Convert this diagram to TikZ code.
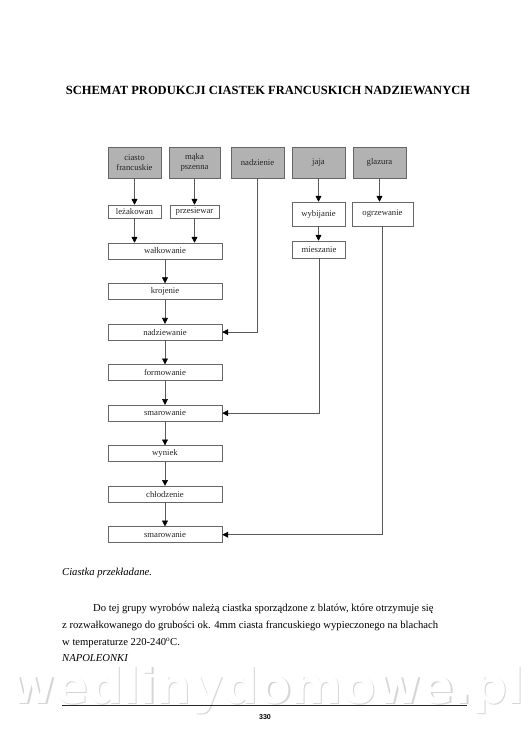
\documentclass[tikz,border=0pt]{standalone}
\usepackage{fontspec}
\setmainfont{Liberation Serif}
\newfontfamily\sansbold{Liberation Sans}
\newfontfamily\markfont{DejaVu Sans}
\usetikzlibrary{positioning,arrows.meta}

\begin{document}
\begin{tikzpicture}[
    x=0.039623cm, y=-0.039623cm,
    node distance=0.951cm,
    stage/.style={draw=black!60, line width=0.6pt, fill=#1, minimum width=4.517cm, minimum height=0.634cm, inner sep=1pt, font=\fontsize{9.8}{11}\selectfont, text=black!85, align=center},
    stage/.default=white,
    flow/.style={draw=black!65, line width=0.6pt, -{Triangle[length=2.3mm,width=2.3mm,black]}},
    line/.style={anchor=base west, inner sep=0pt, font=\fontsize{12}{14}\selectfont},
]
    \useasboundingbox[fill=white] (0,0) rectangle (530,750);

    % title
    \node[anchor=base, font=\fontsize{14.1}{16}\selectfont\bfseries] (title) at (268,94) {SCHEMAT PRODUKCJI CIASTEK FRANCUSKICH NADZIEWANYCH};

    % raw materials
    \node[stage=black!30, minimum width=2.1cm, minimum height=1.228cm] (ciasto) at (134.5,162.5) {ciasto\\francuskie};
    \node[stage=black!30, minimum width=2.02cm, minimum height=1.228cm] (maka) at (194.5,162.5) {mąka\\pszenna};
    \node[stage=black!30, minimum width=2.1cm, minimum height=1.228cm] (nadz) at (257.5,162.5) {nadzienie};
    \node[stage=black!30, minimum width=2.1cm, minimum height=1.228cm] (jaja) at (318.5,162.5) {jaja};
    \node[stage=black!30, minimum width=2.1cm, minimum height=1.228cm] (glaz) at (379.5,162.5) {glazura};

    % preparation
    \node[stage, minimum width=2.1cm, minimum height=0.515cm, inner sep=0pt] (lez) at (134.5,211.5) {leżakowan};
    \node[stage, minimum width=1.95cm, minimum height=0.515cm, inner sep=0pt] (przes) at (194.5,211.5) {przesiewar};
    \node[stage, minimum width=2.1cm, minimum height=0.951cm] (wybij) at (318.5,214) {wybijanie};
    \node[stage, minimum width=2.42cm, minimum height=0.951cm] (ogrz) at (382.5,214) {ogrzewanie};
    \node[stage, minimum width=2.1cm, minimum height=0.674cm] (miesz) at (319,249.5) {mieszanie};

    % main line
    \node[stage] (walk) at (165,251) {wałkowanie};
    \node[stage, below=of walk] (kroj) {krojenie};
    \node[stage, below=of kroj] (nadziew) {nadziewanie};
    \node[stage, below=of nadziew] (form) {formowanie};
    \node[stage, below=of form] (smar1) {smarowanie};
    \node[stage, below=of smar1] (wypiek) {wyniek};
    \node[stage, below=of wypiek] (chlod) {chłodzenie};
    \node[stage, below=of chlod] (smar2) {smarowanie};

    \draw[flow] (ciasto) -- (lez);
    \draw[flow] (maka) -- (przes);
    \draw[flow] (lez.south) -- (lez.south |- walk.north);
    \draw[flow] (przes.south) -- (przes.south |- walk.north);
    \foreach \a/\b in {walk/kroj, kroj/nadziew, nadziew/form, form/smar1, smar1/wypiek, wypiek/chlod, chlod/smar2} {
        \draw[flow] (\a) -- (\b);
    }
    \draw[flow] (nadz.south) |- (nadziew.east);
    \draw[flow] (jaja) -- (wybij);
    \draw[flow] (wybij.south) -- (wybij.south |- miesz.north);
    \draw[flow] (miesz.south) |- (smar1.east);
    \draw[flow] (glaz.south) -- (glaz.south |- ogrz.north);
    \draw[flow] (ogrz.south) |- (smar2.east);

    % text below the chart
    \node[line, font=\fontsize{12}{14}\selectfont\itshape] (sub) at (62,575) {Ciastka przekładane.};
    \node[line] (par1) at (93,611) {Do tej grupy wyrobów należą ciastka sporządzone z blatów, które otrzymuje się};
    \node[line] (par2) at (62,628) {z rozwałkowanego do grubości ok. 4mm ciasta francuskiego wypieczonego na blachach};
    \node[line] (par3) at (62,645) {w temperaturze 220-240\textsuperscript{o}C.};
    \node[line, font=\fontsize{12}{14}\selectfont\itshape] (napo) at (62,661) {NAPOLEONKI};

    % watermark and footer
    \node[anchor=base, inner sep=0pt, text=black!16, font=\markfont\bfseries\fontsize{55}{58}\selectfont] (markshade) at (268.5,704.5) {wedlinydomowe.pl};
    \node[anchor=base, inner sep=0pt, text=white, font=\markfont\bfseries\fontsize{55}{58}\selectfont] (mark) at (267,703) {wedlinydomowe.pl};
    \draw[line width=0.8pt, black!85] (62,705) -- (467,705);
    \node[font=\sansbold\bfseries\fontsize{8}{9}\selectfont] (page) at (265,717) {330};
\end{tikzpicture}
\end{document}
